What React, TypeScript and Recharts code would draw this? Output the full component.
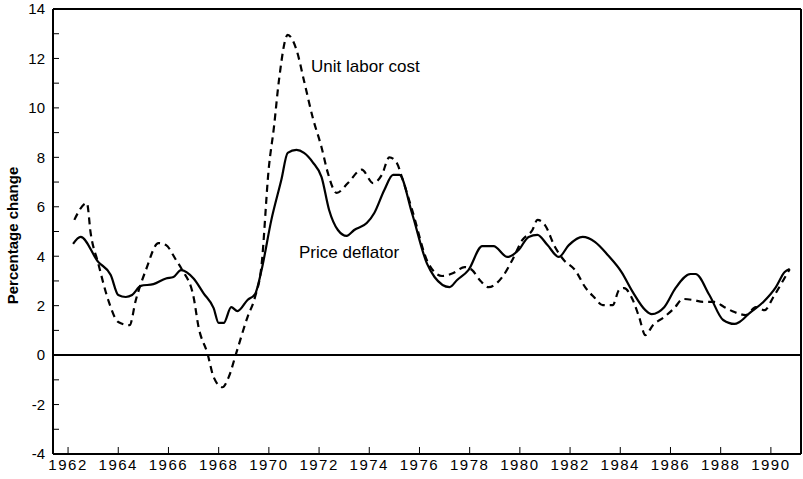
import { LineChart, Line, XAxis, YAxis, ReferenceLine, ReferenceDot } from 'recharts';

const deflatorYears = [
  1962.2, 1962.5, 1963.2, 1963.7, 1964.0, 1964.3, 1964.55, 1964.9, 1965.4, 1965.9,
  1966.2, 1966.5, 1967.0, 1967.4, 1967.8, 1968.0, 1968.2, 1968.5, 1968.75, 1969.15,
  1969.45, 1969.7, 1970.1, 1970.5, 1970.75, 1971.1, 1971.4, 1971.75, 1972.1, 1972.4,
  1972.75, 1973.1, 1973.4, 1973.9, 1974.2, 1974.6, 1974.95, 1975.2, 1975.7, 1976.3,
  1976.6, 1977.2, 1977.5, 1977.95, 1978.5, 1978.95, 1979.5, 1979.95, 1980.35, 1980.7,
  1981.1, 1981.55, 1981.95, 1982.5, 1983.0, 1983.5, 1984.05, 1984.5, 1985.0, 1985.25,
  1985.75, 1986.2, 1986.8, 1987.0, 1987.55, 1988.1, 1988.55, 1988.75, 1989.15, 1989.7,
  1990.2, 1990.55, 1990.75,
];
const deflatorValues = [
  4.5, 4.78, 3.77, 3.24, 2.43, 2.35, 2.43, 2.8, 2.87, 3.1,
  3.16, 3.44, 3.1, 2.5, 1.9, 1.3, 1.3, 1.94, 1.78, 2.23,
  2.47, 3.4, 5.47, 7.1, 8.18, 8.3, 8.18, 7.8, 7.2, 5.87,
  5.06, 4.82, 5.06, 5.34, 5.75, 6.68, 7.29, 7.29, 5.75, 3.7,
  3.16, 2.75, 3.04, 3.44, 4.41, 4.41, 3.97, 4.25, 4.78, 4.86,
  4.45, 3.97, 4.45, 4.78, 4.57, 4.05, 3.36, 2.55, 1.82, 1.66,
  1.94, 2.71, 3.28, 3.28, 2.43, 1.42, 1.26, 1.34, 1.7, 2.15,
  2.75, 3.36, 3.48,
];

const laborYears = [
  1962.25, 1962.75, 1962.9, 1963.2, 1963.6, 1964.0, 1964.45, 1964.7, 1965.1, 1965.6,
  1965.9, 1966.3, 1966.55, 1967.0, 1967.2, 1967.55, 1967.8, 1968.15, 1968.4, 1968.7,
  1969.15, 1969.45, 1969.7, 1970.0, 1970.2, 1970.4, 1970.75, 1971.1, 1971.4, 1971.75,
  1972.1, 1972.35, 1972.7, 1973.15, 1973.7, 1974.15, 1974.5, 1974.8, 1975.1, 1975.3,
  1975.7, 1976.35, 1976.9, 1977.35, 1977.8, 1978.1, 1978.4, 1978.75, 1979.3, 1979.7,
  1980.1, 1980.5, 1980.7, 1981.0, 1981.4, 1981.75, 1982.2, 1982.6, 1982.95, 1983.3,
  1983.7, 1983.95, 1984.15, 1984.5, 1984.75, 1985.0, 1985.3, 1985.75, 1986.15, 1986.5,
  1986.9, 1987.3, 1987.75, 1988.15, 1988.55, 1989.0, 1989.4, 1989.75, 1990.1, 1990.5,
  1990.75,
];
const laborValues = [
  5.47, 6.15, 4.94, 3.72, 2.23, 1.34, 1.21, 2.23, 3.44, 4.53,
  4.45, 3.85, 3.44, 2.35, 1.13, 0.08, -0.89, -1.3, -0.89, 0.08,
  1.54, 2.35, 3.56, 7.6, 9.2, 11.1, 12.95, 12.35, 11.1, 9.6,
  8.4, 7.37, 6.56, 6.96, 7.5, 6.96, 7.29, 8.0, 7.77, 7.2,
  5.9, 3.72, 3.2, 3.32, 3.56, 3.44, 3.04, 2.75, 3.16, 3.85,
  4.66, 5.06, 5.47, 5.26, 4.37, 3.85, 3.44, 2.75, 2.35, 2.02,
  2.02, 2.63, 2.71, 2.23, 1.54, 0.81, 1.21, 1.54, 1.9, 2.27,
  2.23, 2.15, 2.15, 1.94, 1.74, 1.62, 1.94, 1.82, 2.35, 3.04,
  3.48,
];

const yearTicks = [1962, 1964, 1966, 1968, 1970, 1972, 1974, 1976, 1978, 1980, 1982, 1984, 1986, 1988, 1990];
const valueTicks = [-4, -3, -2, -1, 0, 1, 2, 3, 4, 5, 6, 7, 8, 9, 10, 11, 12, 13, 14];

const deflatorData = deflatorYears.map((year, i) => ({ year, value: deflatorValues[i] }));
const laborData = laborYears.map((year, i) => ({ year, value: laborValues[i] }));

const font = '"Liberation Sans", Arial, sans-serif';

function SeriesLabel({ viewBox, text }: any) {
  return (
    <text x={viewBox.x} y={viewBox.y} fontFamily={font} fontSize={17} fill="#000">
      {text}
    </text>
  );
}

export default function App() {
  return (
    <div style={{ position: 'absolute', left: 0, top: 0, background: '#fff' }}>
      <LineChart width={803} height={479} margin={{ top: 9, right: 2, left: 0, bottom: 0 }}>
        <XAxis
          dataKey="year"
          type="number"
          domain={[1961.4, 1991.2]}
          ticks={yearTicks}
          allowDuplicatedCategory={false}
          height={25}
          tickSize={-7}
          tickMargin={12}
          stroke="#000"
          axisLine={{ strokeWidth: 2 }}
          tick={{ fill: '#000', fontSize: 15, fontFamily: font, letterSpacing: 1.5 }}
        />
        <YAxis
          type="number"
          domain={[-4, 14]}
          ticks={valueTicks}
          interval={0}
          width={53}
          tickSize={-6}
          tickMargin={14}
          stroke="#000"
          axisLine={{ strokeWidth: 2 }}
          tickFormatter={(v: number) => (v % 2 === 0 ? String(v) : '')}
          tick={{ fill: '#000', fontSize: 15, fontFamily: font }}
          label={{
            content: ({ viewBox }: any) => {
              const x = viewBox.x + 18;
              const y = viewBox.y + viewBox.height / 2 + 4;
              return (
                <text
                  x={x}
                  y={y}
                  transform={`rotate(-90 ${x} ${y})`}
                  textAnchor="middle"
                  fontFamily={font}
                  fontWeight="bold"
                  fontSize={15}
                  fill="#000"
                >
                  Percentage change
                </text>
              );
            },
          }}
        />
        <ReferenceLine y={14} stroke="#000" strokeWidth={2} />
        <ReferenceLine x={1991.2} stroke="#000" strokeWidth={2} />
        <ReferenceLine y={0} stroke="#000" strokeWidth={2} />
        <Line
          data={laborData}
          dataKey="value"
          type="monotone"
          stroke="#000"
          strokeWidth={2.2}
          strokeDasharray="7 5"
          dot={false}
          isAnimationActive={false}
        />
        <Line
          data={deflatorData}
          dataKey="value"
          type="monotone"
          stroke="#000"
          strokeWidth={2.2}
          dot={false}
          isAnimationActive={false}
        />
        <ReferenceDot
          x={1971.68}
          y={11.46}
          r={0}
          label={(props: any) => <SeriesLabel {...props} text="Unit labor cost" />}
        />
        <ReferenceDot
          x={1971.2}
          y={3.93}
          r={0}
          label={(props: any) => <SeriesLabel {...props} text="Price deflator" />}
        />
      </LineChart>
    </div>
  );
}
